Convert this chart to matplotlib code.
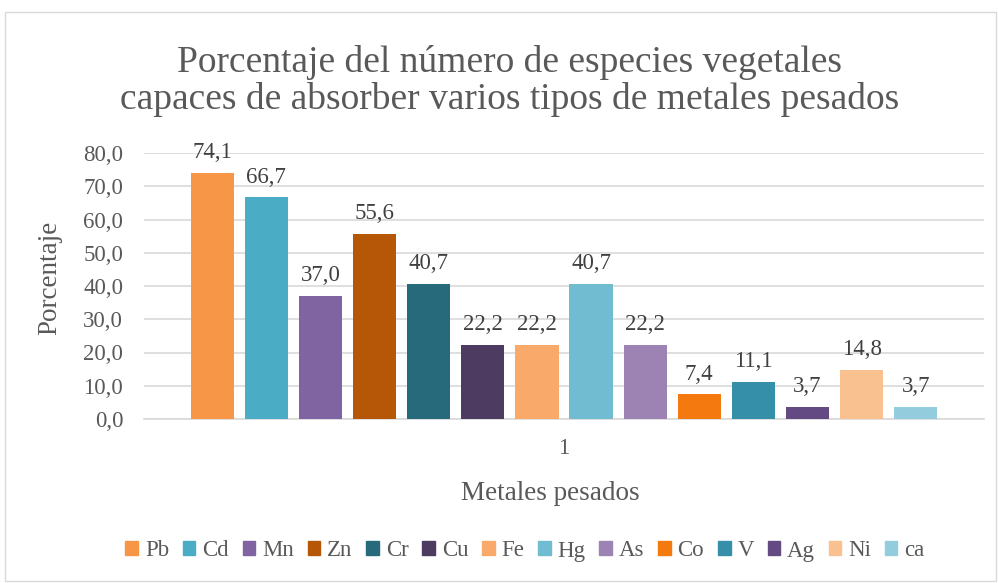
import matplotlib
matplotlib.use("Agg")
import matplotlib.pyplot as plt
from matplotlib.patches import Rectangle

metals = ["Pb", "Cd", "Mn", "Zn", "Cr", "Cu", "Fe", "Hg", "As", "Co", "V", "Ag", "Ni", "ca"]
values = [74.1, 66.7, 37.0, 55.6, 40.7, 22.2, 22.2, 40.7, 22.2, 7.4, 11.1, 3.7, 14.8, 3.7]
colors = ["#F79646", "#4BACC6", "#8064A2", "#B65708", "#276A7C", "#4D3B62",
          "#F9AA6B", "#71BCD1", "#9C83B4", "#F47A10", "#358FA8", "#644A82",
          "#F9C18F", "#93CDDD"]
yticks = [0, 10, 20, 30, 40, 50, 60, 70, 80]
category_label = "1"

plt.rcParams["font.family"] = ["Liberation Serif", "DejaVu Serif"]
txt = "#595959"

fig = plt.figure(figsize=(9.98, 5.83), dpi=100)
fig.patches.append(Rectangle((5 / 998, 1 - 581 / 583), 991 / 998, 569 / 583,
                             transform=fig.transFigure, fill=False,
                             edgecolor="#d9d9d9", linewidth=1.0))

ax = fig.add_axes([144 / 998, 1 - 419 / 583, 840 / 998, 266 / 583])
x = list(range(len(values)))
ax.bar(x, values, width=0.8, color=colors, zorder=3)
for xi, v in zip(x, values):
    ax.annotate(f"{v:.1f}".replace(".", ","), (xi, v), xytext=(0, 7),
                textcoords="offset points", ha="center", va="bottom",
                fontsize=16.5, color="#404040")

ax.set_xlim(-1.26, len(values) - 1 + 1.26)
ax.set_ylim(0, 80)
ax.set_yticks(yticks)
ax.set_yticklabels([f"{t:.1f}".replace(".", ",") for t in yticks], fontsize=16.5, color=txt)
ax.set_xticks([(len(values) - 1) / 2])
ax.set_xticklabels([category_label], fontsize=16.5, color=txt)
ax.tick_params(axis="y", length=0, pad=15)
ax.tick_params(axis="x", length=0, pad=14)
ax.grid(axis="y", color="#d9d9d9", linewidth=1.2, zorder=0)
for s in ["top", "right", "left"]:
    ax.spines[s].set_visible(False)
ax.spines["bottom"].set_color("#d9d9d9")
ax.spines["bottom"].set_linewidth(1.2)

fig.text(50 / 998, 1 - 278 / 583, "Porcentaje", rotation=90, ha="center", va="center",
         fontsize=19.5, color=txt)
fig.text(550 / 998, 1 - 494 / 583, "Metales pesados", ha="center", va="center",
         fontsize=19.5, color=txt)
fig.text(510 / 998, 1 - 81 / 583,
         "Porcentaje del número de especies vegetales\ncapaces de absorber varios tipos de metales pesados",
         ha="center", va="center", fontsize=27, color=txt, linespacing=1.1)

handles = [Rectangle((0, 0), 1, 1, color=c) for c in colors]
fig.legend(handles, metals, loc="center", bbox_to_anchor=(525 / 998, 1 - 551 / 583),
           ncol=len(metals), frameon=False, fontsize=16.5, labelcolor=txt,
           handlelength=0.55, handleheight=0.55, handletextpad=0.3, columnspacing=0.6)

fig.savefig("out.png", dpi=100)
